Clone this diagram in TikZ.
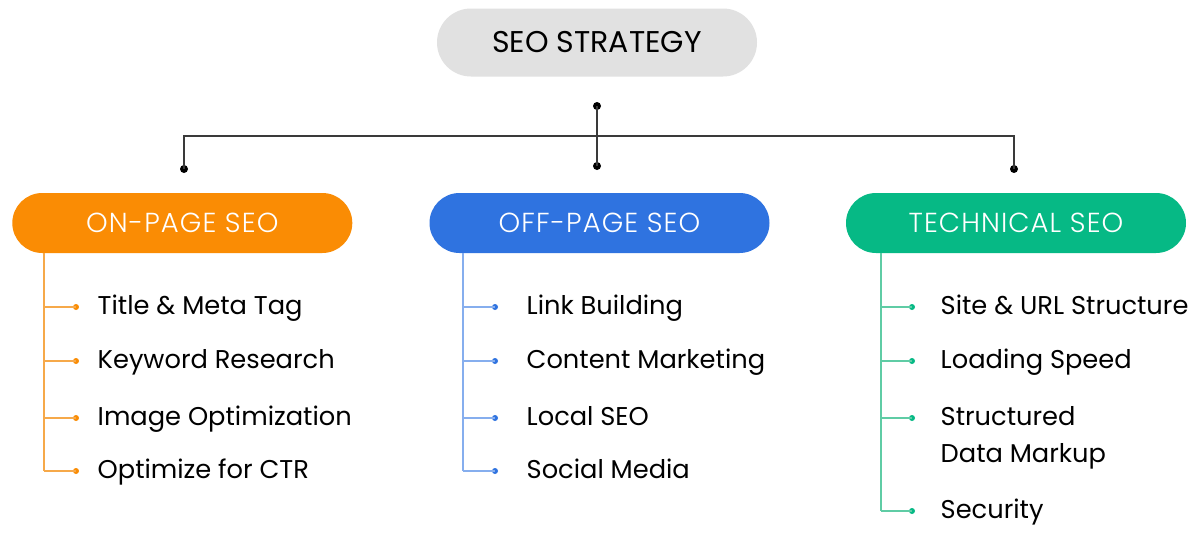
\documentclass[tikz,border=0pt]{standalone}
\usepackage{fontspec}
\setmainfont{Poppins}
\newfontfamily\poplight{Poppins}[UprightFont={* Light}, LetterSpace=4]
\definecolor{lineDark}{HTML}{3A3A3A}
\definecolor{topGray}{HTML}{E1E1E1}
\definecolor{onOrange}{HTML}{FA8C04}
\definecolor{offBlue}{HTML}{2F73E0}
\definecolor{techGreen}{HTML}{06B985}
\definecolor{onLine}{HTML}{F6A94A}
\definecolor{offLine}{HTML}{86AEEE}
\definecolor{techLine}{HTML}{5FCCA5}
\begin{document}
\begin{tikzpicture}[x=1pt,y=-1pt,
  topbox/.style={fill=topGray, rounded corners=34pt, minimum width=320pt, minimum height=68pt, inner sep=0pt,
    font=\fontsize{30}{35}\selectfont, text=black},
  catbox/.style={rounded corners=30pt, minimum width=340pt, minimum height=60pt, inner sep=0pt,
    font=\poplight\fontsize{27.5}{32}\selectfont, text=white},
  item/.style={anchor=base west, inner sep=0pt, font=\fontsize{25.7}{37.3}\selectfont, text=black, align=left},
  conn/.style={draw=lineDark, line width=1.5pt},
  blackdot/.style={circle, fill=black, inner sep=0pt, minimum size=8pt},
  ondot/.style={circle, fill=onOrange, inner sep=0pt, minimum size=6pt},
  offdot/.style={circle, fill=offBlue, inner sep=0pt, minimum size=6pt},
  techdot/.style={circle, fill=techGreen, inner sep=0pt, minimum size=6pt},
  onbr/.style={draw=onLine, line width=1.5pt},
  offbr/.style={draw=offLine, line width=1.5pt},
  techbr/.style={draw=techLine, line width=1.5pt},
]
\useasboundingbox (0,0) rectangle (1200,541);
\fill[white] (0,0) rectangle (1200,541);

% top box
\node[topbox] (top) at (597,42.5) {SEO STRATEGY};

% connector
\node[blackdot] (d1) at (597,106) {};
\node[blackdot] (d2) at (597,166) {};
\node[blackdot] (dl) at (184,169) {};
\node[blackdot] (dr) at (1014,169) {};
\coordinate (hl) at (184,136);
\coordinate (hr) at (1014,136);
\draw[conn] (d1.center) -- (d2.center);
\draw[conn] (dl.center) -- (hl) -- (hr) -- (dr.center);

% category boxes
\node[catbox, fill=onOrange] (on) at (182.3,223) {ON-PAGE SEO};
\node[catbox, fill=offBlue] (off) at (599.5,223) {OFF-PAGE SEO};
\node[catbox, fill=techGreen] (tech) at (1016,223) {TECHNICAL SEO};

% ON-PAGE branch
\coordinate (onTop) at (44,253);
\coordinate (onBot) at (44,471);
\draw[onbr] (onTop) -- (onBot);
\foreach \y/\n/\t in {307/on1/{Title \& Meta Tag},361/on2/{Keyword Research},418/on3/{Image Optimization},471/on4/{Optimize for CTR}}{
  \coordinate (\n b) at (44,\y);
  \node[ondot] (\n d) at (76,\y) {};
  \draw[onbr] (\n b) -- (\n d.center);
  \node[item] (\n) at (97.5,\y+7.5) {\t};
}

% OFF-PAGE branch
\coordinate (offTop) at (463,253);
\coordinate (offBot) at (463,471);
\draw[offbr] (offTop) -- (offBot);
\foreach \y/\n/\t in {307/off1/{Link Building},361/off2/{Content Marketing},418/off3/{Local SEO},471/off4/{Social Media}}{
  \coordinate (\n b) at (463,\y);
  \node[offdot] (\n d) at (495,\y) {};
  \draw[offbr] (\n b) -- (\n d.center);
  \node[item] (\n) at (526.5,\y+7.5) {\t};
}

% TECHNICAL branch
\coordinate (techTop) at (881,253);
\coordinate (techBot) at (881,511);
\draw[techbr] (techTop) -- (techBot);
\foreach \y/\n/\t/\o in {307/tech1/{Site \& URL Structure}/7.5,361/tech2/{Loading Speed}/7.5,418/tech3/{Structured\\Data Markup}/44.5,511/tech4/{Security}/7.5}{
  \coordinate (\n b) at (881,\y);
  \node[techdot] (\n d) at (912,\y) {};
  \draw[techbr] (\n b) -- (\n d.center);
  \node[item] (\n) at (940.5,\y+\o) {\t};
}
\end{tikzpicture}
\end{document}
